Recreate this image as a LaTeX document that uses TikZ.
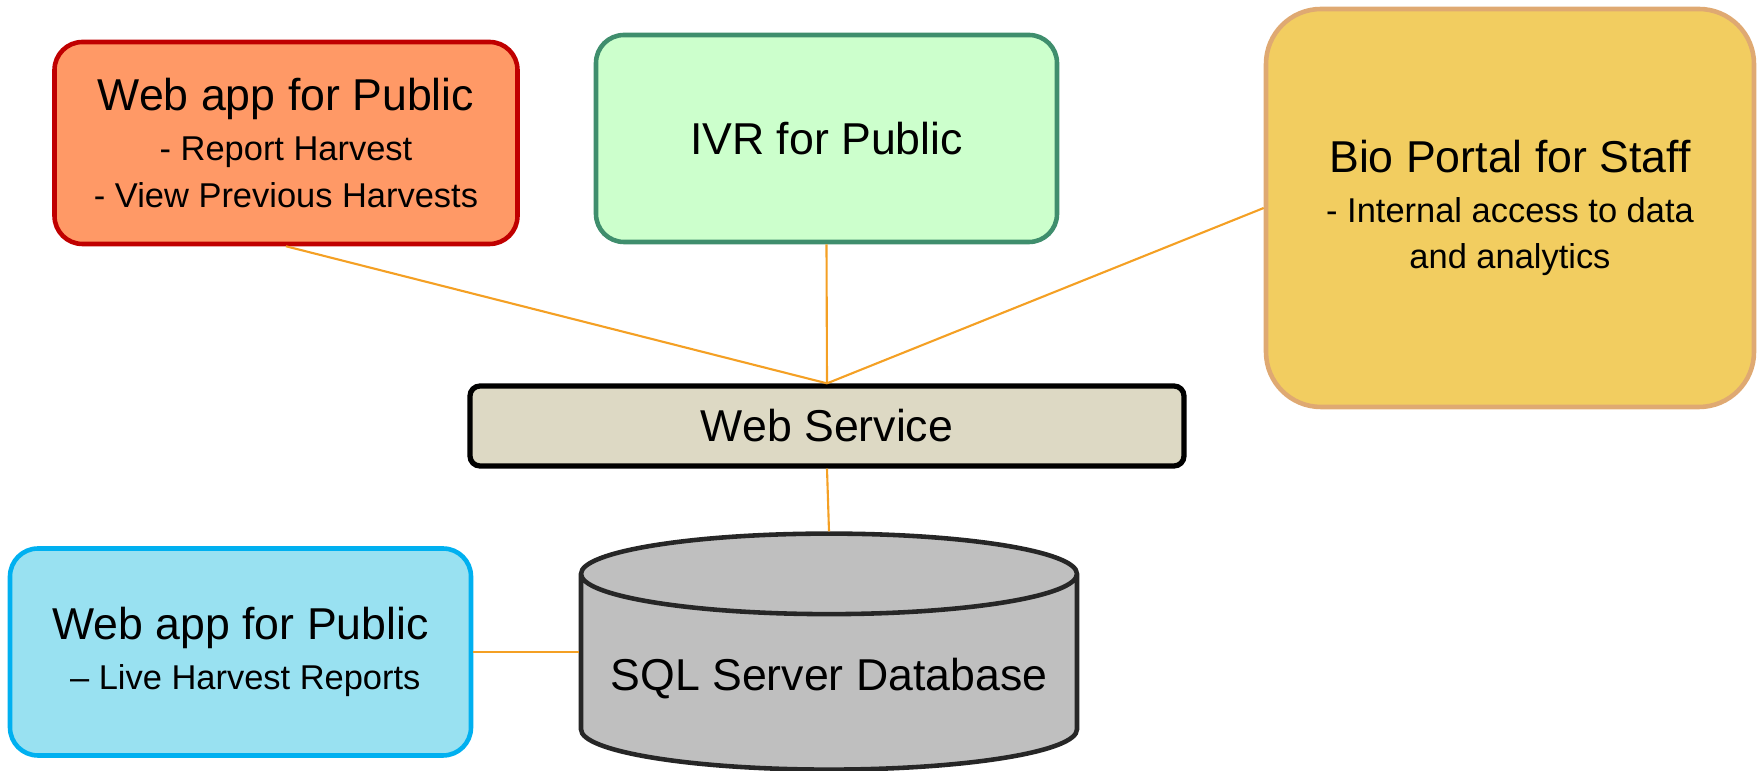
\documentclass[tikz,border=0pt]{standalone}
\usepackage{fontspec}
\setmainfont{Liberation Sans}
\usetikzlibrary{shapes.geometric}

\definecolor{pubfill}{HTML}{FF9966}
\definecolor{publine}{HTML}{C00000}
\definecolor{ivrfill}{HTML}{CCFFCC}
\definecolor{ivrline}{HTML}{3F8E6D}
\definecolor{biofill}{HTML}{F2CD60}
\definecolor{bioline}{HTML}{DFA972}
\definecolor{wsfill}{HTML}{DDD9C4}
\definecolor{dbfill}{HTML}{BFBFBF}
\definecolor{livefill}{HTML}{99E1F1}
\definecolor{liveline}{HTML}{00B0F0}
\definecolor{wire}{HTML}{F4A024}

\newcommand{\bigtxt}{\fontsize{12.7}{15}\selectfont}
\newcommand{\smalltxt}{\fontsize{9.8}{13.2}\selectfont}

\begin{document}
\begin{tikzpicture}[
    appbox/.style={draw, line width=1.3pt, rounded corners=0.28cm, align=center, font=\smalltxt},
    link/.style={draw=wire, line width=0.6pt}
  ]
    \useasboundingbox (0,0) rectangle (17.63,7.71);

    % the clients on top
    \node[appbox, fill=pubfill, draw=publine, minimum width=4.63cm, minimum height=2.02cm] (pub) at (2.86,6.28)
        {{\bigtxt Web app for Public}\\[1pt] - Report Harvest\\ - View Previous Harvests};
    \node[appbox, fill=ivrfill, draw=ivrline, minimum width=4.61cm, minimum height=2.07cm] (ivr) at (8.265,6.325)
        {\bigtxt IVR for Public};
    \node[appbox, fill=biofill, draw=bioline, rounded corners=0.55cm, minimum width=4.88cm, minimum height=3.98cm] (bio) at (15.10,5.63)
        {{\bigtxt Bio Portal for Staff}\\[1pt] - Internal access to data\\ and analytics};

    % service and database
    \node[draw, line width=1.5pt, fill=wsfill, rounded corners=0.1cm, minimum width=7.14cm, minimum height=0.80cm, font=\bigtxt] (ws) at (8.27,3.45)
        {Web Service};
    \node[draw=black!85, line width=1.3pt, fill=dbfill, cylinder, shape border rotate=90, aspect=0.175, minimum width=4.96cm, minimum height=2.36cm, font=\bigtxt] (db) at (8.29,0.92)
        {SQL Server Database};

    \node[appbox, fill=livefill, draw=liveline, minimum width=4.61cm, minimum height=2.07cm] (live) at (2.405,1.19)
        {{\bigtxt Web app for Public}\\[1pt] \ -- Live Harvest Reports};

    % connectors
    \draw[link] (pub.south) -- (ws.north);
    \draw[link] (ivr.south) -- (ws.north);
    \draw[link] (bio.west) -- (ws.north);
    \draw[link] (ws.south) -- (db.north);
    \draw[link] (live.east) -- (live.east -| db.west);
\end{tikzpicture}
\end{document}
